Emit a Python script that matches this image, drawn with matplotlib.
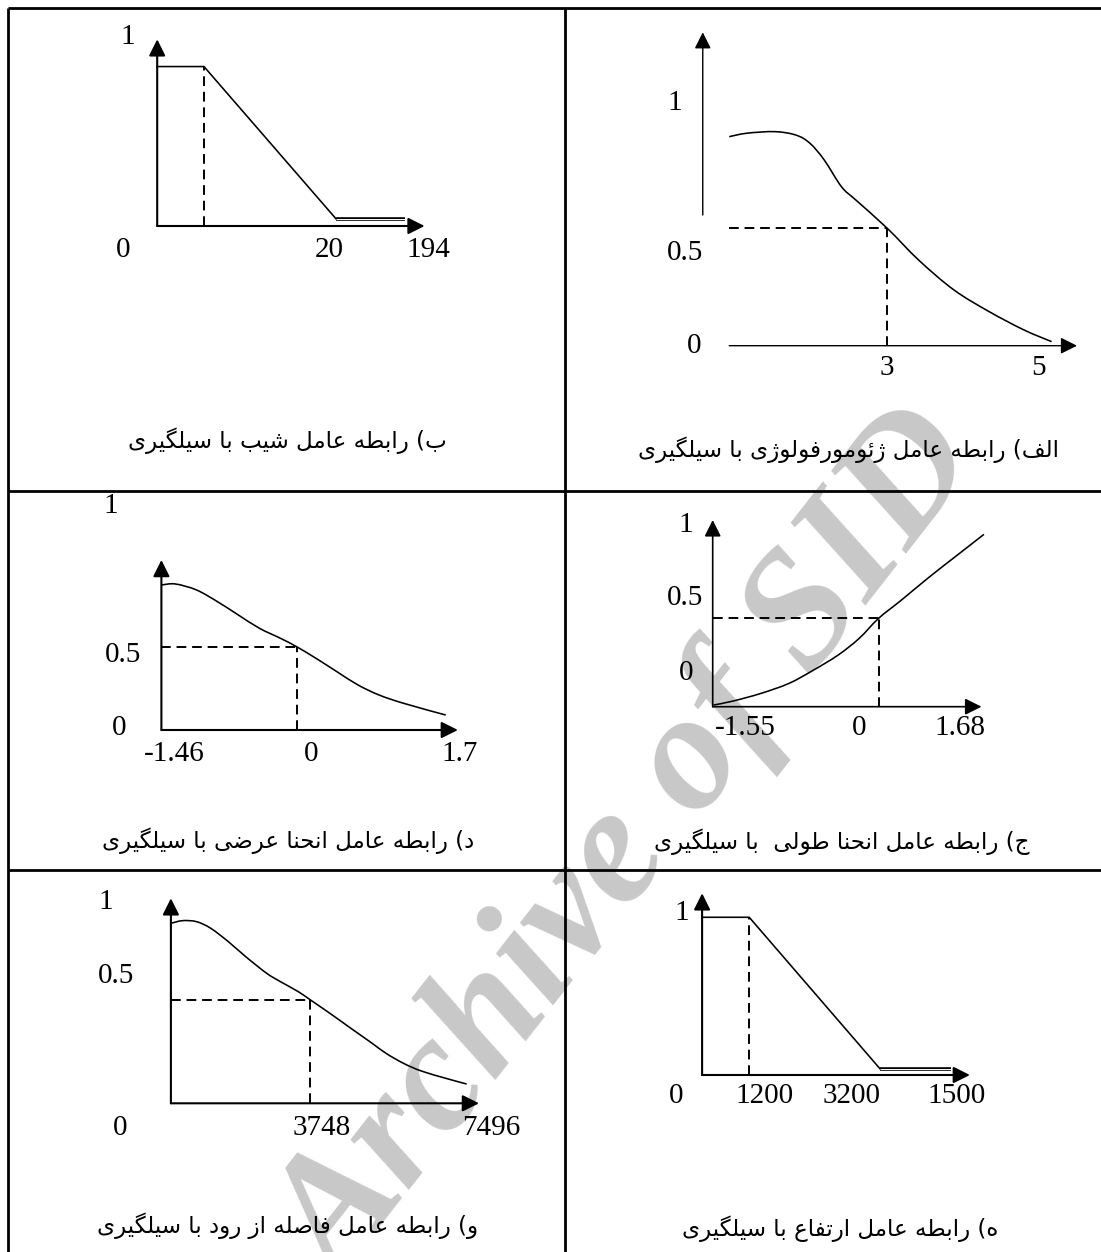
import matplotlib
matplotlib.use("Agg")
import matplotlib.pyplot as plt
from matplotlib.path import Path
from matplotlib.patches import PathPatch

W, H, DPI = 1101, 1252, 100

# ── Persian captions (logical order) ────────────────────────────────────────
CAP_ALEF = "الف) رابطه عامل ژئومورفولوژی با سیلگیری"
CAP_BE = "ب) رابطه عامل شیب با سیلگیری"
CAP_JIM = "ج) رابطه عامل انحنا طولی  با سیلگیری"
CAP_DAL = "د) رابطه عامل انحنا عرضی با سیلگیری"
CAP_HE = "ه) رابطه عامل ارتفاع با سیلگیری"
CAP_VAV = "و) رابطه عامل فاصله از رود با سیلگیری"

# ── Membership curves (x along axis to arrow tip, y up to arrow tip) ─────────
ALEF_X = [0.000, 0.051, 0.131, 0.192, 0.232, 0.273, 0.323, 0.364, 0.455, 0.545, 0.646, 0.747, 0.848, 0.927]
ALEF_Y = [0.667, 0.678, 0.683, 0.672, 0.646, 0.593, 0.507, 0.465, 0.374, 0.273, 0.178, 0.109, 0.050, 0.013]
ALEF_CUT = (0.455, 0.374)
ALEF_LABELS = ["1", "0.5", "0", "3", "5"]
ALEF_LABEL_POS = [(-0.157, 0.784), (-0.126, 0.305), (-0.100, 0.008), (0.454, -0.061), (0.889, -0.061)]

BE_X = [0.0, 0.175, 0.669, 0.928]
BE_Y = [0.854, 0.854, 0.038, 0.038]
BE_CUT = (0.175, 0.854)
BE_LABELS = ["1", "0", "20", "194"]
BE_LABEL_POS = [(-0.111, 1.027), (-0.129, -0.111), (0.645, -0.111), (1.013, -0.111)]

DAL_X = [0.000, 0.047, 0.118, 0.189, 0.260, 0.331, 0.402, 0.456, 0.521, 0.592, 0.663, 0.734, 0.817, 0.959]
DAL_Y = [0.853, 0.859, 0.824, 0.755, 0.676, 0.598, 0.539, 0.490, 0.422, 0.343, 0.265, 0.206, 0.157, 0.088]
DAL_CUT = (0.456, 0.490)
DAL_LABELS = ["1", "0.5", "0", "-1.46", "0", "1.7"]
DAL_LABEL_POS = [(-0.172, 1.333), (-0.130, 0.461), (-0.142, 0.029), (0.044, -0.124), (0.505, -0.124), (1.006, -0.124)]

JIM_X = [0.003, 0.075, 0.179, 0.284, 0.375, 0.467, 0.545, 0.617, 0.702, 0.807, 0.911, 1.009]
JIM_Y = [0.009, 0.030, 0.071, 0.125, 0.196, 0.277, 0.366, 0.473, 0.571, 0.696, 0.813, 0.923]
JIM_CUT = (0.617, 0.473)
JIM_LABELS = ["1", "0.5", "0", "-1.55", "0", "1.68"]
JIM_LABEL_POS = [(-0.102, 0.991), (-0.102, 0.598), (-0.099, 0.196), (0.123, -0.098), (0.545, -0.098), (0.920, -0.098)]

VAV_X = [0.000, 0.038, 0.083, 0.129, 0.186, 0.243, 0.311, 0.356, 0.413, 0.453, 0.516, 0.584, 0.653, 0.698, 0.755, 0.812, 0.892, 0.960]
VAV_Y = [0.878, 0.891, 0.886, 0.854, 0.789, 0.715, 0.634, 0.593, 0.545, 0.504, 0.439, 0.366, 0.293, 0.244, 0.195, 0.158, 0.122, 0.094]
VAV_CUT = (0.453, 0.504)
VAV_LABELS = ["1", "0.5", "0", "3748", "7496"]
VAV_LABEL_POS = [(-0.213, 0.995), (-0.179, 0.637), (-0.164, -0.106), (0.490, -0.106), (1.040, -0.106)]

HE_X = [0.0, 0.176, 0.665, 0.928]
HE_Y = [0.868, 0.868, 0.033, 0.033]
HE_CUT = (0.176, 0.868)
HE_LABELS = ["1", "0", "1200", "3200", "1500"]
HE_LABEL_POS = [(-0.076, 0.908), (-0.096, -0.101), (0.232, -0.101), (0.558, -0.101), (0.951, -0.101)]

# ── Minimal Arabic/Persian shaping (matplotlib has no complex text layout) ──
ARABIC_FORMS = {
    # letter: (isolated, final, initial, medial)
    "\u0626": ("\uFE89", "\uFE8A", "\uFE8B", "\uFE8C"),
    "\u0627": ("\uFE8D", "\uFE8E", None, None),
    "\u0628": ("\uFE8F", "\uFE90", "\uFE91", "\uFE92"),
    "\u062A": ("\uFE95", "\uFE96", "\uFE97", "\uFE98"),
    "\u062C": ("\uFE9D", "\uFE9E", "\uFE9F", "\uFEA0"),
    "\u062D": ("\uFEA1", "\uFEA2", "\uFEA3", "\uFEA4"),
    "\u062F": ("\uFEA9", "\uFEAA", None, None),
    "\u0631": ("\uFEAD", "\uFEAE", None, None),
    "\u0632": ("\uFEAF", "\uFEB0", None, None),
    "\u0698": ("\uFB8A", "\uFB8B", None, None),
    "\u0633": ("\uFEB1", "\uFEB2", "\uFEB3", "\uFEB4"),
    "\u0634": ("\uFEB5", "\uFEB6", "\uFEB7", "\uFEB8"),
    "\u0635": ("\uFEB9", "\uFEBA", "\uFEBB", "\uFEBC"),
    "\u0636": ("\uFEBD", "\uFEBE", "\uFEBF", "\uFEC0"),
    "\u0637": ("\uFEC1", "\uFEC2", "\uFEC3", "\uFEC4"),
    "\u0639": ("\uFEC9", "\uFECA", "\uFECB", "\uFECC"),
    "\u0641": ("\uFED1", "\uFED2", "\uFED3", "\uFED4"),
    "\u0644": ("\uFEDD", "\uFEDE", "\uFEDF", "\uFEE0"),
    "\u0645": ("\uFEE1", "\uFEE2", "\uFEE3", "\uFEE4"),
    "\u0646": ("\uFEE5", "\uFEE6", "\uFEE7", "\uFEE8"),
    "\u0647": ("\uFEE9", "\uFEEA", "\uFEEB", "\uFEEC"),
    "\u0648": ("\uFEED", "\uFEEE", None, None),
    "\u06AF": ("\uFB92", "\uFB93", "\uFB94", "\uFB95"),
    "\u06CC": ("\uFBFC", "\uFBFD", "\uFBFE", "\uFBFF"),
}
MIRROR = {"(": ")", ")": "("}


def shape_rtl(text):
    text = text.replace("\u064A", "\u06CC").replace("\u0649", "\u06CC")
    out = []
    for i, ch in enumerate(text):
        forms = ARABIC_FORMS.get(ch)
        if forms is None:
            out.append(MIRROR.get(ch, ch))
            continue
        prev = text[i - 1] if i > 0 else ""
        nxt = text[i + 1] if i + 1 < len(text) else ""
        join_prev = prev in ARABIC_FORMS and ARABIC_FORMS[prev][2] is not None
        join_next = forms[2] is not None and nxt in ARABIC_FORMS
        if join_prev and join_next:
            out.append(forms[3])
        elif join_next:
            out.append(forms[2])
        elif join_prev:
            out.append(forms[1])
        else:
            out.append(forms[0])
    return "".join(reversed(out))


def smooth_path(xs, ys):
    # Catmull-Rom through the read points, drawn as cubic Bezier segments
    pts = list(zip(xs, ys))
    verts, codes = [pts[0]], [Path.MOVETO]
    for i in range(len(pts) - 1):
        p0 = pts[i - 1] if i > 0 else pts[i]
        p1, p2 = pts[i], pts[i + 1]
        p3 = pts[i + 2] if i + 2 < len(pts) else p2
        c1 = (p1[0] + (p2[0] - p0[0]) / 6, p1[1] + (p2[1] - p0[1]) / 6)
        c2 = (p2[0] - (p3[0] - p1[0]) / 6, p2[1] - (p3[1] - p1[1]) / 6)
        verts += [c1, c2, p2]
        codes += [Path.CURVE4] * 3
    return Path(verts, codes)


# ── Figure & table frame ────────────────────────────────────────────────────
fig = plt.figure(figsize=(W / DPI, H / DPI), dpi=DPI)
fig.patch.set_facecolor("white")
bg = fig.add_axes([0, 0, 1, 1], zorder=0)
bg.set_xlim(0, W)
bg.set_ylim(H, 0)
bg.axis("off")

# watermark
bg.text(632, 850, "Archive of SID", rotation=52, rotation_mode="anchor",
        ha="center", va="center", fontsize=121, color="#c8c8c8",
        family="Liberation Serif", fontweight="bold", style="italic", zorder=0)

TABLE_COLS = [7.5, 565]
TABLE_ROWS = [7.5, 491, 870]
for xv in TABLE_COLS:
    bg.plot([xv, xv], [7.5, H], color="black", lw=2.0, solid_capstyle="butt", zorder=2)
for yv in TABLE_ROWS:
    bg.plot([7.5, W], [yv, yv], color="black", lw=2.0, solid_capstyle="butt", zorder=2)

CAPTION_POS = {
    CAP_BE: (287, 441), CAP_ALEF: (848, 450),
    CAP_DAL: (288, 841), CAP_JIM: (842, 842),
    CAP_VAV: (288, 1226), CAP_HE: (840, 1229),
}
for cap, (cx, cy) in CAPTION_POS.items():
    bg.text(cx, cy, shape_rtl(cap), ha="center", va="center", fontsize=16.6,
            family="DejaVu Sans", color="black", zorder=3)


# ── Diagram panels ──────────────────────────────────────────────────────────
def panel(box, xs, ys, cut, labels, label_pos, axis_lw=1.5, curve_lw=1.15,
          yaxis=(0.0, 0.0, 1.0), vcut_only=False, smooth=True):
    left, bottom, w, h = box
    ax = fig.add_axes([left / W, 1 - bottom / H, w / W, h / H], zorder=1)
    ax.set_xlim(0, 1)
    ax.set_ylim(0, 1)
    ax.axis("off")
    arrow = dict(arrowstyle="-|>,head_length=1.0,head_width=0.5", mutation_scale=10,
                 lw=axis_lw, color="black", shrinkA=0, shrinkB=0)
    ax.annotate("", xy=(1, 0), xytext=(0, 0), arrowprops=arrow, annotation_clip=False)
    yx, y0, y1 = yaxis
    ax.annotate("", xy=(yx, y1), xytext=(yx, y0), arrowprops=arrow, annotation_clip=False)
    if smooth:
        ax.add_patch(PathPatch(smooth_path(xs, ys), fill=False, lw=curve_lw,
                               edgecolor="black", clip_on=False))
    else:
        ax.plot(xs[:-1], ys[:-1], color="black", lw=curve_lw, clip_on=False)
        # flat tail is drawn as a double rule
        ax.plot(xs[-2:], ys[-2:], color="black", lw=2.6, clip_on=False, solid_capstyle="butt")
        ax.plot(xs[-2:], ys[-2:], color="white", lw=0.7, clip_on=False, solid_capstyle="butt")
    cx, cy = cut
    dash = dict(color="black", lw=1.4, ls=(0, (5, 3)), clip_on=False)
    if not vcut_only:
        ax.plot([0, cx], [cy, cy], **dash)
    ax.plot([cx, cx], [0, cy], **dash)
    for s, (lx, ly) in zip(labels, label_pos):
        ax.text(lx, ly, s, ha="center", va="center_baseline", fontsize=21,
                family="Liberation Serif", clip_on=False)
    return ax


panel((729.2, 345.7, 347.8, 313.4), ALEF_X, ALEF_Y, ALEF_CUT, ALEF_LABELS, ALEF_LABEL_POS,
      axis_lw=1.0, yaxis=(-0.076, 0.417, 1.0))
panel((157.2, 226.0, 267.4, 186.7), BE_X, BE_Y, BE_CUT, BE_LABELS, BE_LABEL_POS,
      vcut_only=True, smooth=False)
panel((161.4, 730.0, 296.5, 170.0), DAL_X, DAL_Y, DAL_CUT, DAL_LABELS, DAL_LABEL_POS)
panel((712.7, 706.7, 268.8, 186.7), JIM_X, JIM_Y, JIM_CUT, JIM_LABELS, JIM_LABEL_POS, axis_lw=1.2)
panel((170.9, 1103.3, 308.1, 205.0), VAV_X, VAV_Y, VAV_CUT, VAV_LABELS, VAV_LABEL_POS)
panel((702.1, 1075.0, 267.8, 181.7), HE_X, HE_Y, HE_CUT, HE_LABELS, HE_LABEL_POS,
      vcut_only=True, smooth=False)

fig.savefig("out.png", dpi=DPI, facecolor="white")
